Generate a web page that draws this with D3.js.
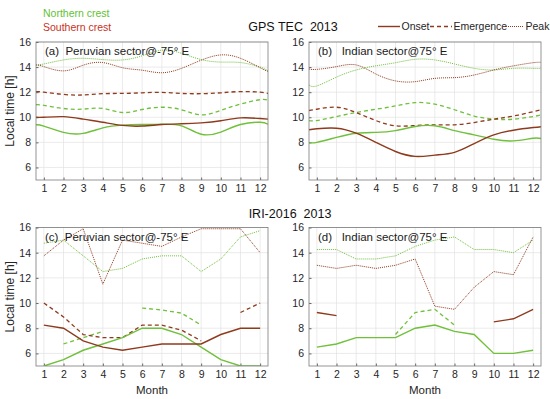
<!DOCTYPE html>
<html>
<head>
<meta charset="utf-8">
<script src="https://cdn.jsdelivr.net/npm/d3@7"></script>
<style>
  body { margin: 0; background: #fff; }
  svg { font-family: "Liberation Sans", Arial, Helvetica, sans-serif; }
</style>
</head>
<body>
<div id="chart"></div>
<script>
// months on the x axis
const months = [1, 2, 3, 4, 5, 6, 7, 8, 9, 10, 11, 12];
// GPS curves run edge to edge of the axes
const gpsMonths = [0.6, 1, 2, 3, 4, 5, 6, 7, 8, 9, 10, 11, 12, 12.4];
const yTicks = [6, 8, 10, 12, 14, 16];

// GPS TEC 2013, Peruvian sector
const gpsPeNorthOnset = [9.4, 9.3, 8.8, 8.72, 9.15, 9.37, 9.42, 9.45, 9.32, 8.65, 8.82, 9.42, 9.6, 9.45];
const gpsPeSouthOnset = [10.0, 10.0, 10.05, 9.85, 9.6, 9.35, 9.3, 9.42, 9.48, 9.55, 9.72, 9.95, 9.9, 9.85];
const gpsPeNorthEmerg = [11.0, 10.95, 10.7, 10.65, 10.7, 10.38, 10.62, 10.8, 10.6, 10.2, 10.55, 11.05, 11.4, 11.35];
const gpsPeSouthEmerg = [12.05, 12.0, 11.82, 11.78, 11.88, 11.9, 11.95, 11.98, 11.9, 11.88, 11.95, 12.05, 12.0, 11.9];
const gpsPeNorthPeak = [14.17, 14.25, 14.57, 14.7, 14.6, 14.57, 14.9, 15.35, 15.1, 14.6, 14.4, 14.36, 14.0, 13.7];
const gpsPeSouthPeak = [14.17, 14.04, 13.7, 14.15, 14.36, 13.95, 13.75, 13.55, 13.9, 14.55, 14.97, 14.7, 13.95, 13.65];

// GPS TEC 2013, Indian sector
const gpsInNorthOnset = [7.98, 8.0, 8.4, 8.73, 8.8, 8.94, 9.26, 9.32, 8.94, 8.6, 8.25, 8.12, 8.33, 8.3];
const gpsInSouthOnset = [9.0, 9.08, 9.13, 8.73, 8.0, 7.27, 6.88, 6.98, 7.2, 7.9, 8.6, 8.97, 9.18, 9.25];
const gpsInNorthEmerg = [9.74, 9.74, 10.06, 10.38, 10.64, 10.9, 11.17, 11.04, 10.6, 10.1, 9.85, 9.85, 10.06, 10.2];
const gpsInSouthEmerg = [10.54, 10.64, 10.8, 10.38, 9.74, 9.32, 9.34, 9.4, 9.4, 9.58, 9.85, 10.1, 10.45, 10.6];
const gpsInNorthPeak = [12.58, 12.5, 13.2, 13.77, 14.1, 14.35, 14.62, 14.57, 14.25, 13.9, 13.77, 13.9, 13.9, 13.9];
const gpsInSouthPeak = [13.85, 13.82, 14.04, 14.17, 13.45, 12.9, 12.84, 13.1, 13.16, 13.37, 13.77, 14.1, 14.35, 14.38];

// IRI-2016 2013, Peruvian sector (null = no value)
const iriPeNorthOnset = [5.0, 5.5, 6.25, 6.75, 7.25, 8.0, 8.0, 7.5, 6.5, 5.5, 5.0, 5.0];
const iriPeSouthOnset = [8.25, 8.0, 7.0, 6.5, 6.25, 6.5, 6.75, 6.75, 6.75, 7.5, 8.0, 8.0];
const iriPeNorthEmerg = [null, 6.75, 7.25, 7.75, null, 9.6, 9.45, 9.2, 8.25, null, null, null];
const iriPeSouthEmerg = [10.0, 8.9, 7.5, 7.25, 7.25, 8.25, 8.25, 7.85, 7.0, null, 9.25, 10.0];
const iriPeNorthPeak = [14.75, 15.0, 13.75, 12.5, 12.75, 13.5, 13.75, 13.75, 12.5, 13.5, 15.25, 15.75];
const iriPeSouthPeak = [13.75, 15.0, 15.9, 11.5, 15.0, 14.75, 14.5, 15.25, 15.9, 15.9, 15.9, 14.0];

// IRI-2016 2013, Indian sector
const iriInNorthOnset = [6.5, 6.75, 7.25, 7.25, 7.25, 8.0, 8.25, 7.75, 7.5, 6.0, 6.0, 6.25];
const iriInSouthOnset = [9.25, 9.0, null, null, null, null, null, null, null, 8.5, 8.75, 9.5];
const iriInNorthEmerg = [null, null, null, null, 7.5, 9.25, 9.5, 8.25, null, null, null, null];
const iriInNorthPeak = [14.25, 14.25, 13.5, 13.5, 13.75, 14.5, 15.0, 15.25, 14.25, 14.25, 14.0, 15.0];
const iriInSouthPeak = [13.0, 12.75, 13.0, 12.75, 13.0, 13.5, 9.75, 9.5, 11.25, 12.5, 12.25, 15.25];

const green = '#6fc03a';
const brown = '#8e3a1c';
const styles = {
  onset: { width: 1.4, dash: null },
  emerg: { width: 1.3, dash: '4,3' },
  peak: { width: 1, dash: '1,1' }
};

const panels = [
  {
    id: 'a', label: '(a)  Peruvian sector@-75\u00b0 E', x0: 36, x1: 268, y0: 42, y1: 180,
    xs: gpsMonths, smooth: true, yLabel: true, xLabel: false,
    series: [
      [gpsPeNorthPeak, green, 'peak'], [gpsPeSouthPeak, brown, 'peak'],
      [gpsPeNorthEmerg, green, 'emerg'], [gpsPeSouthEmerg, brown, 'emerg'],
      [gpsPeNorthOnset, green, 'onset'], [gpsPeSouthOnset, brown, 'onset']
    ]
  },
  {
    id: 'b', label: '(b)   Indian sector@75\u00b0 E', x0: 309, x1: 541, y0: 42, y1: 180,
    xs: gpsMonths, smooth: true, yLabel: false, xLabel: false,
    series: [
      [gpsInNorthPeak, green, 'peak'], [gpsInSouthPeak, brown, 'peak'],
      [gpsInNorthEmerg, green, 'emerg'], [gpsInSouthEmerg, brown, 'emerg'],
      [gpsInNorthOnset, green, 'onset'], [gpsInSouthOnset, brown, 'onset']
    ]
  },
  {
    id: 'c', label: '(c)  Peruvian sector@-75\u00b0 E', x0: 36, x1: 268, y0: 227.5, y1: 366,
    xs: months, smooth: false, yLabel: true, xLabel: true,
    series: [
      [iriPeNorthPeak, green, 'peak'], [iriPeSouthPeak, brown, 'peak'],
      [iriPeNorthEmerg, green, 'emerg'], [iriPeSouthEmerg, brown, 'emerg'],
      [iriPeNorthOnset, green, 'onset'], [iriPeSouthOnset, brown, 'onset']
    ]
  },
  {
    id: 'd', label: '(d)   Indian sector@75\u00b0 E', x0: 309, x1: 541, y0: 227.5, y1: 366,
    xs: months, smooth: false, yLabel: false, xLabel: true,
    series: [
      [iriInNorthPeak, green, 'peak'], [iriInSouthPeak, brown, 'peak'],
      [iriInNorthEmerg, green, 'emerg'],
      [iriInNorthOnset, green, 'onset'], [iriInSouthOnset, brown, 'onset']
    ]
  }
];

const svg = d3.select('#chart').append('svg')
  .attr('width', 550)
  .attr('height', 399);

panels.forEach((p) => {
  const x = d3.scaleLinear().domain([0.6, 12.4]).range([p.x0, p.x1]);
  const y = d3.scaleLinear().domain([5, 16]).range([p.y1, p.y0]);
  const g = svg.append('g').attr('class', 'panel-' + p.id);

  // grid
  g.append('g').selectAll('line.vg').data(months).join('line')
    .attr('x1', (d) => x(d)).attr('x2', (d) => x(d))
    .attr('y1', p.y0).attr('y2', p.y1)
    .attr('stroke', '#e3e3e3').attr('stroke-width', 0.7);
  g.append('g').selectAll('line.hg').data(yTicks).join('line')
    .attr('x1', p.x0).attr('x2', p.x1)
    .attr('y1', (d) => y(d)).attr('y2', (d) => y(d))
    .attr('stroke', '#e3e3e3').attr('stroke-width', 0.7);

  // axes with inward ticks
  const xAxis = g.append('g')
    .attr('transform', `translate(0,${p.y1})`)
    .call(d3.axisBottom(x).tickValues(months).tickSize(-2.5).tickPadding(5));
  const yAxis = g.append('g')
    .attr('transform', `translate(${p.x0},0)`)
    .call(d3.axisLeft(y).tickValues(yTicks).tickSize(-2.5).tickPadding(5));
  [xAxis, yAxis].forEach((ax) => {
    ax.select('.domain').remove();
    ax.selectAll('line').attr('stroke', '#666');
    ax.selectAll('text')
      .attr('font-size', 10.5)
      .attr('font-family', '"Liberation Sans", Arial, sans-serif')
      .attr('fill', '#262626');
  });

  // clip for the data lines
  g.append('clipPath').attr('id', 'clip-' + p.id)
    .append('rect')
    .attr('x', p.x0).attr('y', p.y0)
    .attr('width', p.x1 - p.x0).attr('height', p.y1 - p.y0);

  const line = d3.line()
    .defined((d) => d[1] != null)
    .x((d) => x(d[0]))
    .y((d) => y(d[1]))
    .curve(p.smooth ? d3.curveNatural : d3.curveLinear);

  g.append('g').attr('clip-path', `url(#clip-${p.id})`)
    .selectAll('path')
    .data(p.series)
    .join('path')
    .attr('d', ([vals]) => line(d3.zip(p.xs, vals)))
    .attr('fill', 'none')
    .attr('stroke', ([, color]) => color)
    .attr('stroke-width', ([, , kind]) => styles[kind].width)
    .attr('stroke-dasharray', ([, , kind]) => styles[kind].dash);

  // box
  g.append('rect')
    .attr('x', p.x0).attr('y', p.y0)
    .attr('width', p.x1 - p.x0).attr('height', p.y1 - p.y0)
    .attr('fill', 'none').attr('stroke', '#7a7a7a').attr('stroke-width', 0.8);

  g.append('text')
    .attr('x', p.x0 + 9).attr('y', p.y0 + 13)
    .attr('font-size', 11.5).attr('fill', '#1a1a1a')
    .attr('xml:space', 'preserve')
    .text(p.label);

  if (p.yLabel) {
    g.append('text')
      .attr('transform', `translate(14,${(p.y0 + p.y1) / 2}) rotate(-90)`)
      .attr('text-anchor', 'middle')
      .attr('font-size', 12).attr('fill', '#262626')
      .text('Local time [h]');
  }
  if (p.xLabel) {
    g.append('text')
      .attr('x', (p.x0 + p.x1) / 2).attr('y', 394)
      .attr('text-anchor', 'middle')
      .attr('font-size', 11.5).attr('fill', '#262626')
      .text('Month');
  }
});

// row titles
svg.append('text').attr('x', 293).attr('y', 31)
  .attr('text-anchor', 'middle').attr('font-size', 12.5).attr('fill', '#111')
  .attr('xml:space', 'preserve')
  .text('GPS TEC  2013');
svg.append('text').attr('x', 290).attr('y', 217.5)
  .attr('text-anchor', 'middle').attr('font-size', 12.5).attr('fill', '#111')
  .attr('xml:space', 'preserve')
  .text('IRI-2016  2013');

// crest legend
svg.append('text').attr('x', 43).attr('y', 17)
  .attr('font-size', 10.5).attr('fill', '#62c132').text('Northern crest');
svg.append('text').attr('x', 43).attr('y', 31)
  .attr('font-size', 10.5).attr('fill', '#c8321e').text('Southern crest');

// line style legend
const legendItems = [
  { name: 'Onset', kind: 'onset', x: 378 },
  { name: 'Emergence', kind: 'emerg', x: 430 },
  { name: 'Peak', kind: 'peak', x: 502 }
];
const leg = svg.append('g').selectAll('g').data(legendItems).join('g');
leg.append('line')
  .attr('x1', (d) => d.x).attr('x2', (d) => d.x + 22)
  .attr('y1', 26.5).attr('y2', 26.5)
  .attr('stroke', brown)
  .attr('stroke-width', (d) => styles[d.kind].width)
  .attr('stroke-dasharray', (d) => styles[d.kind].dash);
leg.append('text')
  .attr('x', (d) => d.x + 23.5).attr('y', 30)
  .attr('font-size', 10.5).attr('fill', '#262626')
  .text((d) => d.name);
</script>
</body>
</html>
